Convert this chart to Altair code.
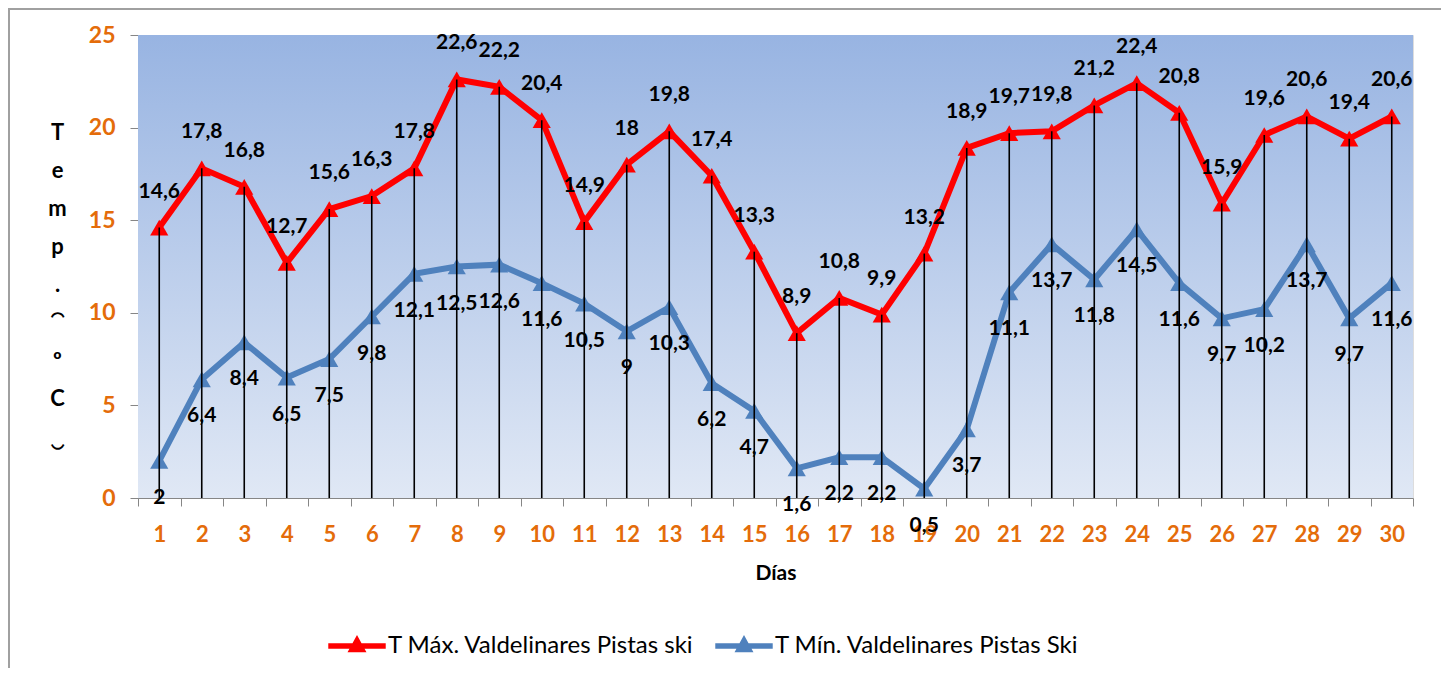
import altair as alt
import pandas as pd

days = list(range(1, 31))
t_max = [14.6, 17.8, 16.8, 12.7, 15.6, 16.3, 17.8, 22.6, 22.2, 20.4, 14.9, 18, 19.8, 17.4, 13.3,
         8.9, 10.8, 9.9, 13.2, 18.9, 19.7, 19.8, 21.2, 22.4, 20.8, 15.9, 19.6, 20.6, 19.4, 20.6]
t_min = [2, 6.4, 8.4, 6.5, 7.5, 9.8, 12.1, 12.5, 12.6, 11.6, 10.5, 9, 10.3, 6.2, 4.7,
         1.6, 2.2, 2.2, 0.5, 3.7, 11.1, 13.7, 11.8, 14.5, 11.6, 9.7, 10.2, 13.7, 9.7, 11.6]
series_names = ["T Máx. Valdelinares Pistas ski", "T Mín. Valdelinares Pistas Ski"]
series_colors = ["#FF0000", "#4F81BD"]
y_ticks = [0, 5, 10, 15, 20, 25]
y_title_chars = ["T", "e", "m", "p", ".", "⁀", "º", "C", "‿"]


def fmt(v):
    s = f"{v:g}"
    return s.replace(".", ",")


rows = []
for d, a, b in zip(days, t_max, t_min):
    rows.append({"day": d, "value": a, "label": fmt(a), "series": series_names[0]})
    rows.append({"day": d, "value": b, "label": fmt(b), "series": series_names[1]})
df = pd.DataFrame(rows)
df_max = pd.DataFrame({"day": days, "value": t_max})

W, H = 1275, 463
FONT = "Lato"
ORANGE = "#E46C0A"

xscale = alt.Scale(type="band", paddingInner=0, paddingOuter=0)
yscale = alt.Scale(domain=[0, 25], nice=False)

x_enc = alt.X("day:O", scale=xscale, axis=alt.Axis(
    title="Días", labelAngle=0, tickBand="extent", tickSize=8, tickColor="#868686",
    domainColor="#868686", labelColor=ORANGE, labelFont=FONT, labelFontSize=22,
    labelFontWeight="bold", labelPadding=18, titleFont=FONT, titleFontSize=21,
    titleFontWeight="bold", titleColor="black", titleY=75, titleBaseline="middle",
    grid=False))
y_enc = alt.Y("value:Q", scale=yscale, axis=alt.Axis(
    title=y_title_chars, titleAngle=0, titleAlign="center",
    titleBaseline="top", titleX=-81, titleY=87, titleLineHeight=38, titleFont=FONT,
    titleFontSize=22, titleFontWeight="bold", titleColor="black",
    values=y_ticks, tickSize=8, tickColor="#868686", domainColor="#868686",
    labelColor=ORANGE, labelFont=FONT, labelFontSize=23, labelFontWeight="bold",
    labelPadding=15, grid=False))

bg = alt.Chart(pd.DataFrame({"a": [0]})).mark_rect(
    fill=alt.Gradient(gradient="linear", x1=0, x2=0, y1=0, y2=1,
                      stops=[alt.GradientStop(color="#98B4E2", offset=0),
                             alt.GradientStop(color="#E0E8F5", offset=1)])
).encode(x=alt.value(0), x2=alt.value(W), y=alt.value(0), y2=alt.value(H))

frame = alt.Chart(pd.DataFrame({"a": [0]})).mark_rect(
    fill=None, stroke="#A0A0A0", strokeWidth=2
).encode(x=alt.value(-129), x2=alt.value(1305), y=alt.value(-26), y2=alt.value(700))

color = alt.Color("series:N", scale=alt.Scale(domain=series_names, range=series_colors),
                  title=None,
                  legend=alt.Legend(orient="none", legendX=190, legendY=582, direction="horizontal",
                                    symbolType="M-1,-0.1H1V0.1H-1Z M-0.33,0.22L0,-0.38L0.33,0.22Z",
                                    symbolSize=3300, symbolStrokeWidth=0,
                                    labelFont=FONT, labelFontSize=24, labelColor="black",
                                    labelLimit=500, columnPadding=20, labelOffset=2))

lines = alt.Chart(df).mark_line(strokeWidth=6, strokeJoin="miter").encode(
    x=x_enc, y=y_enc, color=color, detail="series:N")
points = alt.Chart(df).mark_point(shape="triangle-up", filled=True, size=330, opacity=1).encode(
    x="day:O", y="value:Q", color=color)

rules = alt.Chart(df_max).mark_rule(color="black", strokeWidth=1.6).encode(
    x="day:O", y="value:Q", y2=alt.datum(0))

text_max = alt.Chart(df).transform_filter(
    alt.datum.series == series_names[0]).mark_text(
    font=FONT, fontSize=21, fontWeight="bold", color="black", dy=-36).encode(
    x="day:O", y="value:Q", text="label:N")
text_min = alt.Chart(df).transform_filter(
    alt.datum.series == series_names[1]).mark_text(
    font=FONT, fontSize=21, fontWeight="bold", color="black", dy=37).encode(
    x="day:O", y="value:Q", text="label:N")

chart = alt.layer(bg, frame, lines, points, rules, text_max, text_min).properties(
    width=W, height=H,
    autosize=alt.AutoSizeParams(type="none"),
    padding={"left": 130, "top": 27, "right": 28, "bottom": 170},
).configure_view(stroke=None).configure(background="white")

chart.save("out.html", embed_options={"renderer": "svg", "actions": False})
